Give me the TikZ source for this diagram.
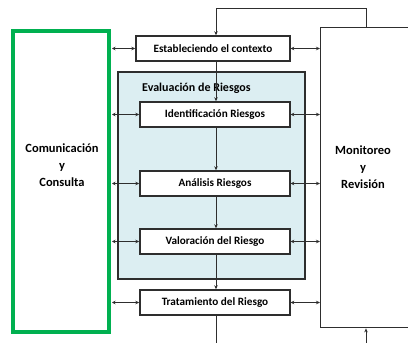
\documentclass[tikz,border=0pt]{standalone}
\usepackage{fontspec}
\setmainfont{Carlito}
\usetikzlibrary{arrows.meta}
\definecolor{lineg}{HTML}{2E2E2E}
\definecolor{greenb}{HTML}{00B050}
\definecolor{evalfill}{HTML}{DCEEF2}
\begin{document}
\begin{tikzpicture}[x=1pt,y=-1pt,
  stepbox/.style={draw=lineg,line width=1.4pt,fill=white,minimum width=150pt,minimum height=25pt,inner sep=0pt,font=\bfseries\fontsize{11.2}{13}\selectfont},
  conn/.style={draw=lineg,line width=1pt},
  arr/.style={conn,-{Stealth[length=4pt,width=3.5pt]}},
  darr/.style={conn,{Stealth[length=3.5pt,width=3.5pt]}-{Stealth[length=4pt,width=3.5pt]}},
  bigtext/.style={font=\bfseries\fontsize{12.5}{17}\selectfont,align=center}]
\useasboundingbox (0,0) rectangle (408,343);
% Evaluation area
\node[draw=lineg,line width=1.4pt,fill=evalfill,minimum width=187pt,minimum height=207pt,inner sep=0pt] (eval) at (211.5,175.5) {};
\node[anchor=west,font=\bfseries\fontsize{12}{14}\selectfont,inner sep=0pt] (evallab) at (142,88) {Evaluación de Riesgos};
% Communication box
\node[draw=greenb,line width=4pt,minimum width=96pt,minimum height=301pt,inner sep=0pt] (com) at (61,181.5) {};
\node[bigtext] (comtxt) at (62,165) {Comunicación\\y\\Consulta};
% Monitoring box
\node[draw=lineg,line width=1.4pt,minimum width=100pt,minimum height=300pt,inner sep=0pt,anchor=north west] (mon) at (320,27) {};
\node[bigtext] (montxt) at (363,167) {Monitoreo\\y\\Revisión};
% steps
\node[stepbox,minimum width=154pt] (est) at (213,48.5) {Estableciendo el contexto};
\node[stepbox] (ide) at (215,114.5) {Identificación Riesgos};
\node[stepbox] (ana) at (215,183.5) {Análisis Riesgos};
\node[stepbox] (val) at (215,241.5) {Valoración del Riesgo};
\node[stepbox] (tra) at (215,302.5) {Tratamiento del Riesgo};
\coordinate (xl) at (216,0);
\coordinate (xr) at (366,0);
\coordinate (xc) at (112,0);
\coordinate (topy) at (0,8);
\coordinate (boty) at (0,345);
% vertical chain
\draw[arr] (est.south -| xl) -- (ide.north -| xl);
\draw[arr] (ide.south -| xl) -- (ana.north -| xl);
\draw[arr] (ana.south -| xl) -- (val.north -| xl);
\draw[arr] (val.south -| xl) -- (tra.north -| xl);
\draw[conn] (tra.south -| xl) -- (boty -| xl);
\draw[arr] (boty -| xr) -- (mon.south -| xr);
% top feedback
\draw[arr] (mon.north -| xr) -- (topy -| xr) -- (topy -| xl) -- (est.north -| xl);
% side arrows
\foreach \n in {est,ide,ana,val,tra}{
  \draw[darr] (xc |- \n.west) -- (\n.west);
  \draw[darr] (\n.east) -- (mon.west |- \n.east);
}
\end{tikzpicture}
\end{document}
